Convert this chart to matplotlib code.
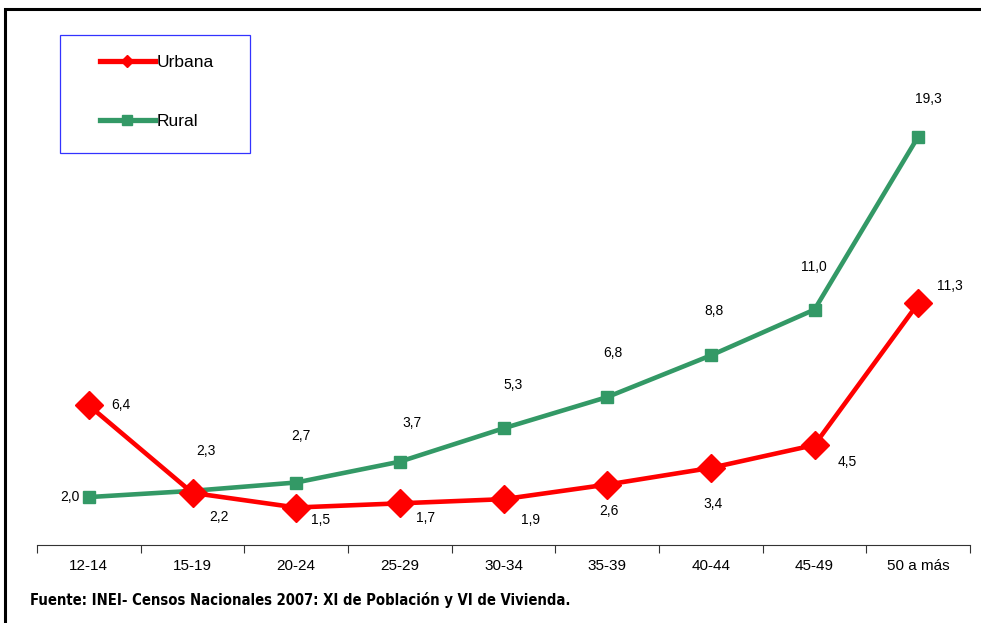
import matplotlib.pyplot as plt
from matplotlib.patches import Rectangle
from matplotlib.lines import Line2D

plt.rcParams['font.family'] = ['Liberation Sans', 'DejaVu Sans']

grupos = ['12-14', '15-19', '20-24', '25-29', '30-34', '35-39', '40-44', '45-49', '50 a más']
urbana = [6.4, 2.2, 1.5, 1.7, 1.9, 2.6, 3.4, 4.5, 11.3]
rural = [2.0, 2.3, 2.7, 3.7, 5.3, 6.8, 8.8, 11.0, 19.3]

# label offsets in pixels (dx, dy up)
off_urb = [(32, 0), (26, -24), (24, -13), (26, -15), (27, -21), (2, -26), (2, -36), (33, -17), (32, 17)]
off_rur = [(-19, 0), (13, 40), (5, 46), (12, 39), (10, 43), (6, 44), (3, 44), (-1, 43), (10, 38)]

RED = '#ff0000'
GREEN = '#339966'

fig = plt.figure(figsize=(9.81, 6.23), dpi=100)
ax = fig.add_axes([37/981, 1-545/623, (970-37)/981, (545-20)/623])

x = list(range(len(grupos)))
ax.plot(x, rural, color=GREEN, lw=3.3, marker='s', ms=8, zorder=3)
ax.plot(x, urbana, color=RED, lw=3.3, marker='D', ms=14.5, zorder=4)

px = 0.72
for i in x:
    dx, dy = off_urb[i]
    ax.annotate(f"{urbana[i]:.1f}".replace('.', ','), (i, urbana[i]), xytext=(dx*px, dy*px),
                textcoords='offset points', ha='center', va='center', fontsize=10)
    dx, dy = off_rur[i]
    ax.annotate(f"{rural[i]:.1f}".replace('.', ','), (i, rural[i]), xytext=(dx*px, dy*px),
                textcoords='offset points', ha='center', va='center', fontsize=10)

ax.set_xlim(-0.5, 8.5)
ax.set_ylim(-0.3, 24.9)
ax.set_yticks([])
for s in ['left', 'right', 'top']:
    ax.spines[s].set_visible(False)
ax.spines['bottom'].set_color('#333333')
ax.spines['bottom'].set_linewidth(0.8)
ax.set_xticks(x)
ax.set_xticklabels(grupos, fontsize=11)
ax.tick_params(axis='x', which='major', length=0, pad=10)
ax.set_xticks([i - 0.5 for i in range(len(grupos) + 1)], minor=True)
ax.tick_params(axis='x', which='minor', length=6, width=0.8, color='#333333')

# legend box
fig.patches.append(Rectangle((60/981, 1-153/623), 190/981, 118/623, transform=fig.transFigure,
                             fill=False, edgecolor='#3333ff', lw=0.9))
handles = [Line2D([], [], color=RED, lw=3.8, marker='D', ms=6),
           Line2D([], [], color=GREEN, lw=3.8, marker='s', ms=7)]
fig.legend(handles, ['Urbana', 'Rural'], loc='upper left',
           bbox_to_anchor=(100/981, 1-55/623), fontsize=12.5, frameon=False,
           handlelength=3.15, handletextpad=0.1, labelspacing=2.5, borderpad=0,
           borderaxespad=0)

fig.text(30/981, 1-600/623, 'Fuente: INEI- Censos Nacionales 2007: XI de Población y VI de Vivienda.',
         fontsize=10.6, fontweight='bold', fontstretch='condensed',
         family=['DejaVu Sans'], va='center', ha='left')

fig.patches.append(Rectangle((5/981, -0.5), 2, 1.5 - 9/623, transform=fig.transFigure,
                             fill=False, edgecolor='black', lw=2.2))

fig.savefig('out.png', dpi=100)
